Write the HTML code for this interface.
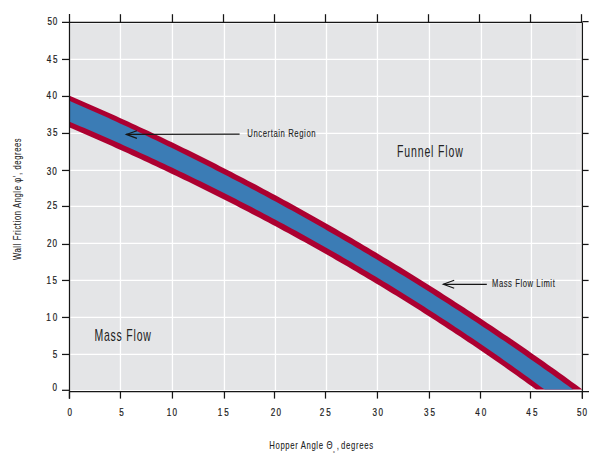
<!DOCTYPE html>
<html><head><meta charset="utf-8"><style>
html,body{margin:0;padding:0;background:#fff;}
svg{display:block;}
text{font-family:"Liberation Sans",sans-serif;fill:#222222;stroke:#222222;}
</style></head><body>
<svg width="606" height="458" viewBox="0 0 606 458">
<defs><clipPath id="pc"><rect x="69.5" y="22.4" width="513" height="367.1"/></clipPath></defs>
<rect x="70.3" y="23.5" width="510.4" height="366.6" fill="#E4E5E7"/><rect x="576" y="23.5" width="4.7" height="366.6" fill="#E8E8EA"/>
<g stroke="#fff" stroke-width="1.3"><line x1="120.45" y1="22" x2="120.45" y2="391" /><line x1="172.45" y1="22" x2="172.45" y2="391" /><line x1="224.45" y1="22" x2="224.45" y2="391" /><line x1="275.45" y1="22" x2="275.45" y2="391" /><line x1="326.5" y1="22" x2="326.5" y2="391" /><line x1="377.45" y1="22" x2="377.45" y2="391" /><line x1="429.45" y1="22" x2="429.45" y2="391" /><line x1="481.45" y1="22" x2="481.45" y2="391" /><line x1="531.45" y1="22" x2="531.45" y2="391" /><line x1="69" y1="59.45" x2="583" y2="59.45" /><line x1="69" y1="96.45" x2="583" y2="96.45" /><line x1="69" y1="133.45" x2="583" y2="133.45" /><line x1="69" y1="170.45" x2="583" y2="170.45" /><line x1="69" y1="206.45" x2="583" y2="206.45" /><line x1="69" y1="243.45" x2="583" y2="243.45" /><line x1="69" y1="280.45" x2="583" y2="280.45" /><line x1="69" y1="317.45" x2="583" y2="317.45" /><line x1="69" y1="354.45" x2="583" y2="354.45" /></g>
<g clip-path="url(#pc)">
<path d="M60.0,91.78 L64.0,93.46 L68.0,95.15 L72.0,96.84 L76.0,98.54 L80.0,100.25 L84.0,101.97 L88.0,103.70 L92.0,105.44 L96.0,107.19 L100.0,108.94 L104.0,110.72 L108.0,112.51 L112.0,114.30 L116.0,116.11 L120.0,117.92 L124.0,119.75 L128.0,121.58 L132.0,123.42 L136.0,125.27 L140.0,127.13 L144.0,128.99 L148.0,130.87 L152.0,132.76 L156.0,134.65 L160.0,136.55 L164.0,138.46 L168.0,140.38 L172.0,142.31 L176.0,144.25 L180.0,146.20 L184.0,148.15 L188.0,150.12 L192.0,152.09 L196.0,154.07 L200.0,156.06 L204.0,158.06 L208.0,160.07 L212.0,162.09 L216.0,164.12 L220.0,166.15 L224.0,168.20 L228.0,170.25 L232.0,172.31 L236.0,174.38 L240.0,176.46 L244.0,178.55 L248.0,180.65 L252.0,182.76 L256.0,184.87 L260.0,187.00 L264.0,189.13 L268.0,191.27 L272.0,193.43 L276.0,195.59 L280.0,197.76 L284.0,199.93 L288.0,202.12 L292.0,204.32 L296.0,206.53 L300.0,208.74 L304.0,210.96 L308.0,213.20 L312.0,215.44 L316.0,217.69 L320.0,219.95 L324.0,222.22 L328.0,224.50 L332.0,226.79 L336.0,229.09 L340.0,231.39 L344.0,233.71 L348.0,236.03 L352.0,238.37 L356.0,240.71 L360.0,243.06 L364.0,245.43 L368.0,247.80 L372.0,250.18 L376.0,252.57 L380.0,254.97 L384.0,257.38 L388.0,259.80 L392.0,262.23 L396.0,264.66 L400.0,267.11 L404.0,269.57 L408.0,272.03 L412.0,274.51 L416.0,276.99 L420.0,279.49 L424.0,281.99 L428.0,284.51 L432.0,287.03 L436.0,289.57 L440.0,292.11 L444.0,294.66 L448.0,297.23 L452.0,299.80 L456.0,302.38 L460.0,304.98 L464.0,307.58 L468.0,310.19 L472.0,312.81 L476.0,315.45 L480.0,318.09 L484.0,320.74 L488.0,323.40 L492.0,326.08 L496.0,328.76 L500.0,331.45 L504.0,334.16 L508.0,336.87 L512.0,339.59 L516.0,342.33 L520.0,345.07 L524.0,347.84 L528.0,350.62 L532.0,353.41 L536.0,356.21 L540.0,359.02 L544.0,361.85 L548.0,364.68 L552.0,367.52 L556.0,370.37 L560.0,373.24 L564.0,376.11 L568.0,378.99 L572.0,381.89 L576.0,384.79 L580.0,387.71 L584.0,390.63 L588.0,393.57 L592.0,396.52 L596.0,399.48 L596.0,435.12 L592.0,431.98 L588.0,428.85 L584.0,425.74 L580.0,422.64 L576.0,419.56 L572.0,416.49 L568.0,413.44 L564.0,410.40 L560.0,407.38 L556.0,404.37 L552.0,401.37 L548.0,398.39 L544.0,395.43 L540.0,392.48 L536.0,389.54 L532.0,386.62 L528.0,383.71 L524.0,380.81 L520.0,377.93 L516.0,375.08 L512.0,372.24 L508.0,369.42 L504.0,366.61 L500.0,363.81 L496.0,361.02 L492.0,358.25 L488.0,355.50 L484.0,352.75 L480.0,350.02 L476.0,347.31 L472.0,344.60 L468.0,341.91 L464.0,339.23 L460.0,336.57 L456.0,333.91 L452.0,331.27 L448.0,328.65 L444.0,326.03 L440.0,323.43 L436.0,320.84 L432.0,318.26 L428.0,315.70 L424.0,313.14 L420.0,310.60 L416.0,308.07 L412.0,305.56 L408.0,303.05 L404.0,300.56 L400.0,298.08 L396.0,295.61 L392.0,293.15 L388.0,290.70 L384.0,288.27 L380.0,285.84 L376.0,283.43 L372.0,281.03 L368.0,278.64 L364.0,276.26 L360.0,273.89 L356.0,271.54 L352.0,269.19 L348.0,266.85 L344.0,264.53 L340.0,262.22 L336.0,259.91 L332.0,257.62 L328.0,255.34 L324.0,253.07 L320.0,250.81 L316.0,248.56 L312.0,246.32 L308.0,244.08 L304.0,241.86 L300.0,239.65 L296.0,237.45 L292.0,235.26 L288.0,233.08 L284.0,230.91 L280.0,228.75 L276.0,226.60 L272.0,224.46 L268.0,222.33 L264.0,220.21 L260.0,218.09 L256.0,215.99 L252.0,213.90 L248.0,211.81 L244.0,209.74 L240.0,207.67 L236.0,205.61 L232.0,203.57 L228.0,201.53 L224.0,199.50 L220.0,197.48 L216.0,195.46 L212.0,193.46 L208.0,191.47 L204.0,189.48 L200.0,187.50 L196.0,185.53 L192.0,183.57 L188.0,181.62 L184.0,179.68 L180.0,177.74 L176.0,175.82 L172.0,173.90 L168.0,171.99 L164.0,170.09 L160.0,168.19 L156.0,166.31 L152.0,164.43 L148.0,162.56 L144.0,160.70 L140.0,158.84 L136.0,157.00 L132.0,155.16 L128.0,153.33 L124.0,151.51 L120.0,149.69 L116.0,147.88 L112.0,146.08 L108.0,144.29 L104.0,142.50 L100.0,140.73 L96.0,138.97 L92.0,137.22 L88.0,135.48 L84.0,133.75 L80.0,132.02 L76.0,130.30 L72.0,128.59 L68.0,126.88 L64.0,125.18 L60.0,123.49Z" fill="#AC0031"/>
<path d="M60.0,96.72 L64.0,98.44 L68.0,100.16 L72.0,101.89 L76.0,103.63 L80.0,105.38 L84.0,107.13 L88.0,108.90 L92.0,110.67 L96.0,112.45 L100.0,114.24 L104.0,116.05 L108.0,117.87 L112.0,119.70 L116.0,121.53 L120.0,123.38 L124.0,125.23 L128.0,127.09 L132.0,128.96 L136.0,130.84 L140.0,132.72 L144.0,134.62 L148.0,136.52 L152.0,138.43 L156.0,140.35 L160.0,142.28 L164.0,144.21 L168.0,146.16 L172.0,148.11 L176.0,150.07 L180.0,152.04 L184.0,154.01 L188.0,156.00 L192.0,157.99 L196.0,160.00 L200.0,162.01 L204.0,164.03 L208.0,166.05 L212.0,168.09 L216.0,170.14 L220.0,172.19 L224.0,174.25 L228.0,176.32 L232.0,178.40 L236.0,180.49 L240.0,182.58 L244.0,184.69 L248.0,186.80 L252.0,188.92 L256.0,191.05 L260.0,193.19 L264.0,195.34 L268.0,197.49 L272.0,199.66 L276.0,201.83 L280.0,204.01 L284.0,206.21 L288.0,208.41 L292.0,210.61 L296.0,212.83 L300.0,215.06 L304.0,217.29 L308.0,219.54 L312.0,221.79 L316.0,224.05 L320.0,226.32 L324.0,228.60 L328.0,230.89 L332.0,233.19 L336.0,235.49 L340.0,237.81 L344.0,240.13 L348.0,242.47 L352.0,244.81 L356.0,247.16 L360.0,249.52 L364.0,251.89 L368.0,254.27 L372.0,256.66 L376.0,259.06 L380.0,261.47 L384.0,263.88 L388.0,266.31 L392.0,268.74 L396.0,271.19 L400.0,273.64 L404.0,276.11 L408.0,278.58 L412.0,281.06 L416.0,283.55 L420.0,286.06 L424.0,288.57 L428.0,291.09 L432.0,293.62 L436.0,296.16 L440.0,298.71 L444.0,301.27 L448.0,303.84 L452.0,306.42 L456.0,309.01 L460.0,311.61 L464.0,314.22 L468.0,316.84 L472.0,319.47 L476.0,322.11 L480.0,324.76 L484.0,327.42 L488.0,330.09 L492.0,332.77 L496.0,335.46 L500.0,338.16 L504.0,340.87 L508.0,343.59 L512.0,346.33 L516.0,349.07 L520.0,351.82 L524.0,354.60 L528.0,357.39 L532.0,360.19 L536.0,363.00 L540.0,365.82 L544.0,368.65 L548.0,371.49 L552.0,374.34 L556.0,377.20 L560.0,380.08 L564.0,382.96 L568.0,385.86 L572.0,388.76 L576.0,391.68 L580.0,394.61 L584.0,397.54 L588.0,400.49 L592.0,403.45 L596.0,406.42 L596.0,428.95 L592.0,425.80 L588.0,422.66 L584.0,419.53 L580.0,416.42 L576.0,413.33 L572.0,410.25 L568.0,407.18 L564.0,404.13 L560.0,401.10 L556.0,398.08 L552.0,395.07 L548.0,392.08 L544.0,389.10 L540.0,386.14 L536.0,383.19 L532.0,380.26 L528.0,377.34 L524.0,374.43 L520.0,371.54 L516.0,368.68 L512.0,365.83 L508.0,363.00 L504.0,360.18 L500.0,357.37 L496.0,354.58 L492.0,351.80 L488.0,349.03 L484.0,346.28 L480.0,343.54 L476.0,340.82 L472.0,338.10 L468.0,335.40 L464.0,332.72 L460.0,330.05 L456.0,327.39 L452.0,324.74 L448.0,322.11 L444.0,319.48 L440.0,316.88 L436.0,314.28 L432.0,311.70 L428.0,309.13 L424.0,306.57 L420.0,304.02 L416.0,301.49 L412.0,298.97 L408.0,296.46 L404.0,293.96 L400.0,291.47 L396.0,289.00 L392.0,286.54 L388.0,284.09 L384.0,281.65 L380.0,279.22 L376.0,276.81 L372.0,274.41 L368.0,272.02 L364.0,269.63 L360.0,267.27 L356.0,264.91 L352.0,262.56 L348.0,260.23 L344.0,257.90 L340.0,255.59 L336.0,253.29 L332.0,250.99 L328.0,248.71 L324.0,246.44 L320.0,244.18 L316.0,241.93 L312.0,239.70 L308.0,237.47 L304.0,235.25 L300.0,233.05 L296.0,230.85 L292.0,228.66 L288.0,226.49 L284.0,224.32 L280.0,222.17 L276.0,220.02 L272.0,217.88 L268.0,215.76 L264.0,213.64 L260.0,211.54 L256.0,209.44 L252.0,207.35 L248.0,205.28 L244.0,203.21 L240.0,201.15 L236.0,199.10 L232.0,197.06 L228.0,195.03 L224.0,193.01 L220.0,191.00 L216.0,189.00 L212.0,187.01 L208.0,185.03 L204.0,183.05 L200.0,181.09 L196.0,179.13 L192.0,177.18 L188.0,175.24 L184.0,173.31 L180.0,171.39 L176.0,169.48 L172.0,167.58 L168.0,165.68 L164.0,163.80 L160.0,161.92 L156.0,160.05 L152.0,158.19 L148.0,156.33 L144.0,154.49 L140.0,152.65 L136.0,150.83 L132.0,149.01 L128.0,147.20 L124.0,145.39 L120.0,143.60 L116.0,141.81 L112.0,140.03 L108.0,138.26 L104.0,136.50 L100.0,134.74 L96.0,133.01 L92.0,131.28 L88.0,129.56 L84.0,127.85 L80.0,126.15 L76.0,124.46 L72.0,122.77 L68.0,121.09 L64.0,119.42 L60.0,117.75Z" fill="#3B7CB5"/>
</g>
<g stroke="#161616" stroke-width="1.25">
<line x1="69.5" y1="14" x2="69.5" y2="398.7"/>
<line x1="582.4" y1="22.4" x2="582.4" y2="398.7"/>
<line x1="62" y1="22.3" x2="582.4" y2="22.3"/>
<line x1="69" y1="391.6" x2="589" y2="391.6"/>
<line x1="69.45" y1="391.5" x2="69.45" y2="398.6" /><line x1="120.45" y1="14.2" x2="120.45" y2="22.4" /><line x1="120.45" y1="391.5" x2="120.45" y2="398.6" /><line x1="172.45" y1="14.2" x2="172.45" y2="22.4" /><line x1="172.45" y1="391.5" x2="172.45" y2="398.6" /><line x1="223.5" y1="14.2" x2="223.5" y2="22.4" /><line x1="224.45" y1="391.5" x2="224.45" y2="398.6" /><line x1="274.5" y1="14.2" x2="274.5" y2="22.4" /><line x1="274.5" y1="391.5" x2="274.5" y2="398.6" /><line x1="325.5" y1="14.2" x2="325.5" y2="22.4" /><line x1="325.5" y1="391.5" x2="325.5" y2="398.6" /><line x1="377.45" y1="14.2" x2="377.45" y2="22.4" /><line x1="377.45" y1="391.5" x2="377.45" y2="398.6" /><line x1="428.5" y1="14.2" x2="428.5" y2="22.4" /><line x1="429.45" y1="391.5" x2="429.45" y2="398.6" /><line x1="479.5" y1="14.2" x2="479.5" y2="22.4" /><line x1="480.5" y1="391.5" x2="480.5" y2="398.6" /><line x1="530.5" y1="14.2" x2="530.5" y2="22.4" /><line x1="530.5" y1="391.5" x2="530.5" y2="398.6" /><line x1="581.5" y1="14.2" x2="581.5" y2="22.4" /><line x1="582.4" y1="391.5" x2="582.4" y2="398.6" /><line x1="62" y1="59.45" x2="69.5" y2="59.45" /><line x1="582.4" y1="59.45" x2="588.6" y2="59.45" /><line x1="62" y1="96.45" x2="69.5" y2="96.45" /><line x1="582.4" y1="96.45" x2="588.6" y2="96.45" /><line x1="62" y1="133.45" x2="69.5" y2="133.45" /><line x1="582.4" y1="133.45" x2="588.6" y2="133.45" /><line x1="62" y1="170.45" x2="69.5" y2="170.45" /><line x1="582.4" y1="170.45" x2="588.6" y2="170.45" /><line x1="62" y1="206.45" x2="69.5" y2="206.45" /><line x1="582.4" y1="206.45" x2="588.6" y2="206.45" /><line x1="62" y1="244.45" x2="69.5" y2="244.45" /><line x1="582.4" y1="244.45" x2="588.6" y2="244.45" /><line x1="62" y1="280.45" x2="69.5" y2="280.45" /><line x1="582.4" y1="280.45" x2="588.6" y2="280.45" /><line x1="62" y1="317.45" x2="69.5" y2="317.45" /><line x1="582.4" y1="317.45" x2="588.6" y2="317.45" /><line x1="62" y1="354.45" x2="69.5" y2="354.45" /><line x1="582.4" y1="354.45" x2="588.6" y2="354.45" /><line x1="62" y1="390.3" x2="69.5" y2="390.3" /><line x1="582.4" y1="21.6" x2="588.6" y2="21.6" />
</g>
<g stroke="#161616" stroke-width="1.15" fill="none">
<path d="M126.3,134.4 L239.6,134.1"/>
<path d="M136.9,130.7 L126.3,134.4 L136.9,138.4"/>
<path d="M443.3,284.3 L486.8,284.4"/>
<path d="M454.2,280.2 L443.3,284.3 L454.2,288.3"/>
</g><g><text transform="translate(247.23,136.80) scale(0.68,1)" font-size="11.4" font-weight="normal" stroke-width="0.1" textLength="100.52" lengthAdjust="spacing">Uncertain Region</text><text transform="translate(491.98,286.80) scale(0.68,1)" font-size="11.2" font-weight="normal" stroke-width="0.1" textLength="92.35" lengthAdjust="spacing">Mass Flow Limit</text><text transform="translate(397.04,156.80) scale(0.66,1)" font-size="15.9" font-weight="normal" stroke-width="0.0" textLength="99.59" lengthAdjust="spacing">Funnel Flow</text><text transform="translate(94.41,340.90) scale(0.66,1)" font-size="15.9" font-weight="normal" stroke-width="0.0" textLength="85.60" lengthAdjust="spacing">Mass Flow</text><text transform="translate(269.34,449.20) scale(0.68,1)" font-size="11.4" font-weight="normal" stroke-width="0.1" textLength="92.76" lengthAdjust="spacing">Hopper Angle Θ</text><text transform="translate(340.89,449.20) scale(0.68,1)" font-size="11.4" font-weight="normal" stroke-width="0.1" textLength="47.27" lengthAdjust="spacing">degrees</text><text transform="translate(333.24,452.80) scale(0.8,1)" font-size="3.5" font-weight="normal" stroke-width="0.1" textLength="1.88" lengthAdjust="spacing">c</text><text transform="translate(336.85,449.20) scale(0.7,1)" font-size="11.4" font-weight="normal" stroke-width="0.1" textLength="1.71" lengthAdjust="spacing">,</text><text transform="translate(21.10,260.08) rotate(-90) scale(0.68,1)" font-size="11.2" font-weight="normal" stroke-width="0.1" textLength="179.07" lengthAdjust="spacing">Wall Friction Angle φ', degrees</text><text transform="translate(67.57,416.20) scale(0.7,1)" font-size="11.6" font-weight="normal" stroke-width="0.25" textLength="6.14" lengthAdjust="spacing">0</text><text transform="translate(119.28,416.20) scale(0.7,1)" font-size="11.6" font-weight="normal" stroke-width="0.25" textLength="6.14" lengthAdjust="spacing">5</text><text transform="translate(166.83,416.20) scale(0.7,1)" font-size="11.6" font-weight="normal" stroke-width="0.25" textLength="14.69" lengthAdjust="spacing">10</text><text transform="translate(217.74,416.20) scale(0.7,1)" font-size="11.6" font-weight="normal" stroke-width="0.25" textLength="15.85" lengthAdjust="spacing">15</text><text transform="translate(270.70,416.20) scale(0.7,1)" font-size="11.6" font-weight="normal" stroke-width="0.25" textLength="14.73" lengthAdjust="spacing">20</text><text transform="translate(319.77,416.20) scale(0.7,1)" font-size="11.6" font-weight="normal" stroke-width="0.25" textLength="15.54" lengthAdjust="spacing">25</text><text transform="translate(372.42,416.20) scale(0.7,1)" font-size="11.6" font-weight="normal" stroke-width="0.25" textLength="15.09" lengthAdjust="spacing">30</text><text transform="translate(424.01,416.20) scale(0.7,1)" font-size="11.6" font-weight="normal" stroke-width="0.25" textLength="15.70" lengthAdjust="spacing">35</text><text transform="translate(475.19,416.20) scale(0.7,1)" font-size="11.6" font-weight="normal" stroke-width="0.25" textLength="15.96" lengthAdjust="spacing">40</text><text transform="translate(526.17,416.20) scale(0.7,1)" font-size="11.6" font-weight="normal" stroke-width="0.25" textLength="16.35" lengthAdjust="spacing">45</text><text transform="translate(576.92,416.20) scale(0.7,1)" font-size="11.6" font-weight="normal" stroke-width="0.25" textLength="14.59" lengthAdjust="spacing">50</text><text transform="translate(47.43,25.30) scale(0.7,1)" font-size="11.6" font-weight="normal" stroke-width="0.25" textLength="14.16" lengthAdjust="spacing">50</text><text transform="translate(46.69,63.00) scale(0.7,1)" font-size="11.6" font-weight="normal" stroke-width="0.25" textLength="15.36" lengthAdjust="spacing">45</text><text transform="translate(46.49,99.30) scale(0.7,1)" font-size="11.6" font-weight="normal" stroke-width="0.25" textLength="14.98" lengthAdjust="spacing">40</text><text transform="translate(47.05,135.90) scale(0.7,1)" font-size="11.6" font-weight="normal" stroke-width="0.25" textLength="14.91" lengthAdjust="spacing">35</text><text transform="translate(46.66,175.10) scale(0.7,1)" font-size="11.6" font-weight="normal" stroke-width="0.25" textLength="14.43" lengthAdjust="spacing">30</text><text transform="translate(46.96,208.90) scale(0.7,1)" font-size="11.6" font-weight="normal" stroke-width="0.25" textLength="14.87" lengthAdjust="spacing">25</text><text transform="translate(47.08,246.90) scale(0.7,1)" font-size="11.6" font-weight="normal" stroke-width="0.25" textLength="14.18" lengthAdjust="spacing">20</text><text transform="translate(46.56,283.90) scale(0.7,1)" font-size="11.6" font-weight="normal" stroke-width="0.25" textLength="14.89" lengthAdjust="spacing">15</text><text transform="translate(46.37,320.90) scale(0.7,1)" font-size="11.6" font-weight="normal" stroke-width="0.25" textLength="15.40" lengthAdjust="spacing">10</text><text transform="translate(52.69,358.30) scale(0.7,1)" font-size="11.6" font-weight="normal" stroke-width="0.25" textLength="5.57" lengthAdjust="spacing">5</text><text transform="translate(52.48,391.10) scale(0.7,1)" font-size="11.6" font-weight="normal" stroke-width="0.25" textLength="5.57" lengthAdjust="spacing">0</text></g>
</svg>
</body></html>
